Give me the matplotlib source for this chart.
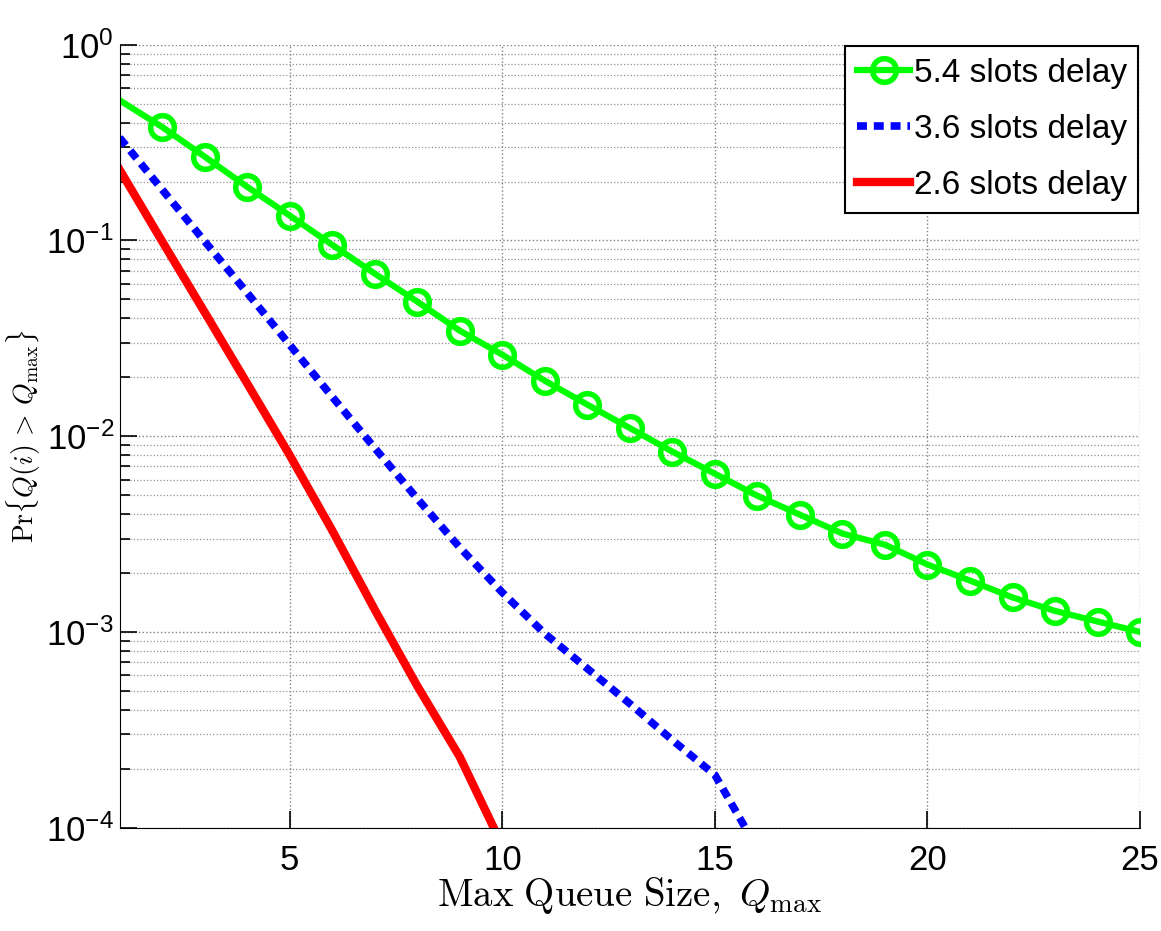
import numpy as np
import matplotlib
matplotlib.use("Agg")
from matplotlib import pyplot as plt
from matplotlib.lines import Line2D
from matplotlib.ticker import LogLocator, NullFormatter

# ---------------------------------- DATA ----------------------------------
q_max = np.arange(1, 26)

delay_54 = [0.52, 0.38, 0.268, 0.188, 0.134, 0.095, 0.0677, 0.0487, 0.0346, 0.0261,
            0.0192, 0.0145, 0.0110, 0.00834, 0.00643, 0.00496, 0.00397, 0.00318,
            0.00279, 0.00221, 0.00183, 0.00150, 0.00128, 0.00113, 0.00100]
q_36 = np.arange(1, 17)
delay_36 = [0.335, 0.182, 0.099, 0.054, 0.0293, 0.0159, 0.0087, 0.0048, 0.0027,
            0.00159, 0.00098, 0.00065, 0.00043, 0.00028, 0.000186, 0.000078]
q_26 = np.arange(1, 11)
delay_26 = [0.23, 0.099, 0.043, 0.0186, 0.0080, 0.0033, 0.0013, 0.00053, 0.00023, 0.000081]

labels = ["5.4 slots delay", "3.6 slots delay", "2.6 slots delay"]

# ---------------------------------- STYLE ----------------------------------
plt.rcParams["font.family"] = ["Liberation Sans", "DejaVu Sans"]
plt.rcParams["mathtext.fontset"] = "custom"
plt.rcParams["mathtext.rm"] = "Liberation Sans"
plt.rcParams["mathtext.it"] = "Liberation Sans:italic"

green = dict(color="#00ff00", lw=4.5, marker="o", markersize=17, markeredgewidth=4, fillstyle="none")
blue = dict(color="#0000ff", lw=5.5, linestyle=(0, (1.3, 0.9)), dash_capstyle="butt")
red = dict(color="#ff0000", lw=6)

fig = plt.figure(figsize=(11.61, 9.31), dpi=100)
ax = fig.add_axes([0.103, 0.111, 0.879, 0.841])

ax.plot(q_max, delay_54, markevery=slice(1, None), **green)
ax.plot(q_36, delay_36, **blue)
ax.plot(q_26, delay_26, **red)

ax.set_yscale("log")
ax.set_xlim(1, 25)
ax.set_ylim(1e-4, 1)
ax.set_xticks([5, 10, 15, 20, 25])
ax.yaxis.set_major_locator(LogLocator(base=10, numticks=10))
ax.yaxis.set_minor_locator(LogLocator(base=10, subs=np.arange(2, 10), numticks=10))
ax.yaxis.set_minor_formatter(NullFormatter())

ax.grid(True, which="major", linestyle=":", color="#808080", lw=1)
ax.grid(True, which="minor", axis="y", linestyle=":", color="#909090", lw=0.9)

ax.spines["top"].set_visible(False)
ax.spines["right"].set_visible(False)
ax.tick_params(which="both", direction="in", labelsize=25, length=12, width=1.2)
ax.tick_params(which="minor", length=7)
ax.tick_params(axis="x", pad=12)
ax.tick_params(axis="y", pad=4)

ax.set_xlabel(r"$\mathrm{Max\ Queue\ Size,}\ Q_{\max}$", fontsize=28, math_fontfamily="cm", labelpad=-2)
ax.set_ylabel(r"$\mathrm{Pr}\{Q(i)\,>\,Q_{\max}\}$", fontsize=20, math_fontfamily="cm")
ax.yaxis.set_label_coords(-0.075, 0.5)

handles = [Line2D([], [], **green), Line2D([], [], **blue), Line2D([], [], **red)]
leg = ax.legend(handles, labels, loc="upper right", fontsize=24, handlelength=1.6,
                handletextpad=0.1, borderpad=0.35, labelspacing=0.75, fancybox=False,
                framealpha=1, borderaxespad=0.05)
leg.get_frame().set_edgecolor("black")
leg.get_frame().set_linewidth(1.5)

fig.savefig("out.png", dpi=100)
